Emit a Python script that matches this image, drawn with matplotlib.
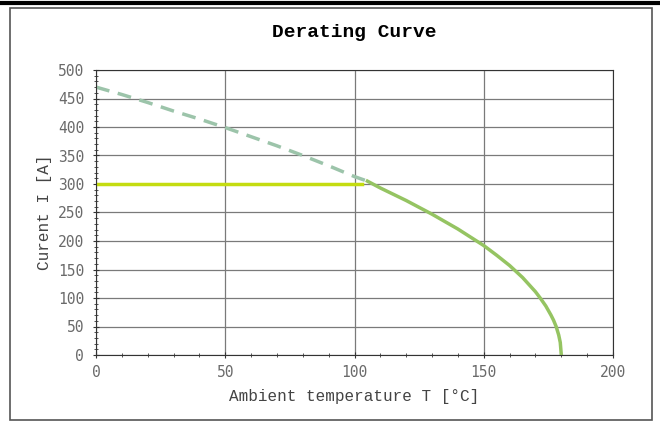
import matplotlib.pyplot as plt
from matplotlib.patches import Rectangle
from matplotlib.ticker import MultipleLocator

# derating curve
temp = [0, 10, 20, 30, 40, 50, 60, 70, 80, 90, 100, 105,
        110, 120, 130, 140, 150, 155, 160, 165, 170, 172, 174, 176,
        177, 178, 179, 179.6, 180]
current = [470, 457, 443, 428, 414, 399, 383, 367, 350, 332, 313, 305,
           293, 271, 247, 221, 192, 175, 157, 136, 111, 99, 86, 70,
           61, 50, 35, 22, 0]
limit_t = [0, 103]
limit_i = [300, 300]
split = 11  # index where the solid part starts

fig = plt.figure(figsize=(6.6, 4.26), dpi=100)
fig.patches.append(Rectangle((10 / 660, 6 / 426), 642 / 660, 412 / 426,
                             transform=fig.transFigure, fill=False,
                             edgecolor='#555555', lw=1.2))
fig.lines.append(plt.Line2D([0, 1], [1 - 3 / 426, 1 - 3 / 426],
                            transform=fig.transFigure, color='black', lw=3))

ax = fig.add_axes([96 / 660, 1 - 355 / 426, 517 / 660, 285 / 426])

ax.plot(temp[:split + 1], current[:split + 1], color='#9cc4aa', lw=2.5,
        linestyle=(0, (4, 2.5)))
ax.plot(limit_t, limit_i, color='#c4dc10', lw=2.5)
ax.plot(temp[split:], current[split:], color='#95c462', lw=2.5)

ax.set_xlim(0, 200)
ax.set_ylim(0, 500)
ax.xaxis.set_major_locator(MultipleLocator(50))
ax.xaxis.set_minor_locator(MultipleLocator(10))
ax.yaxis.set_major_locator(MultipleLocator(50))
ax.yaxis.set_minor_locator(MultipleLocator(10))
ax.grid(which='major', color='#7a7a7a', lw=0.9)
ax.set_axisbelow(True)
ax.tick_params(which='both', direction='inout', labelsize=10.5, colors='#333333',
               labelcolor='#6a6a6a')
ax.tick_params(which='major', length=5)
ax.tick_params(which='minor', length=3)
ax.tick_params(axis='y', pad=6)
ax.tick_params(axis='x', pad=5)
for s in ax.spines.values():
    s.set_color('#333333')
for lab in ax.get_xticklabels() + ax.get_yticklabels():
    lab.set_family('DejaVu Sans Mono')

ax.set_title('Derating Curve', family='Liberation Mono', fontweight='bold',
             fontsize=14, pad=24)
ax.set_xlabel('Ambient temperature T [°C]', family='Liberation Mono',
              fontsize=11.5, color='#444444', labelpad=6)
ax.set_ylabel('Curent I [A]', family='Liberation Mono', fontsize=11.5,
              color='#444444', labelpad=4)

fig.savefig('out.png', dpi=100)
